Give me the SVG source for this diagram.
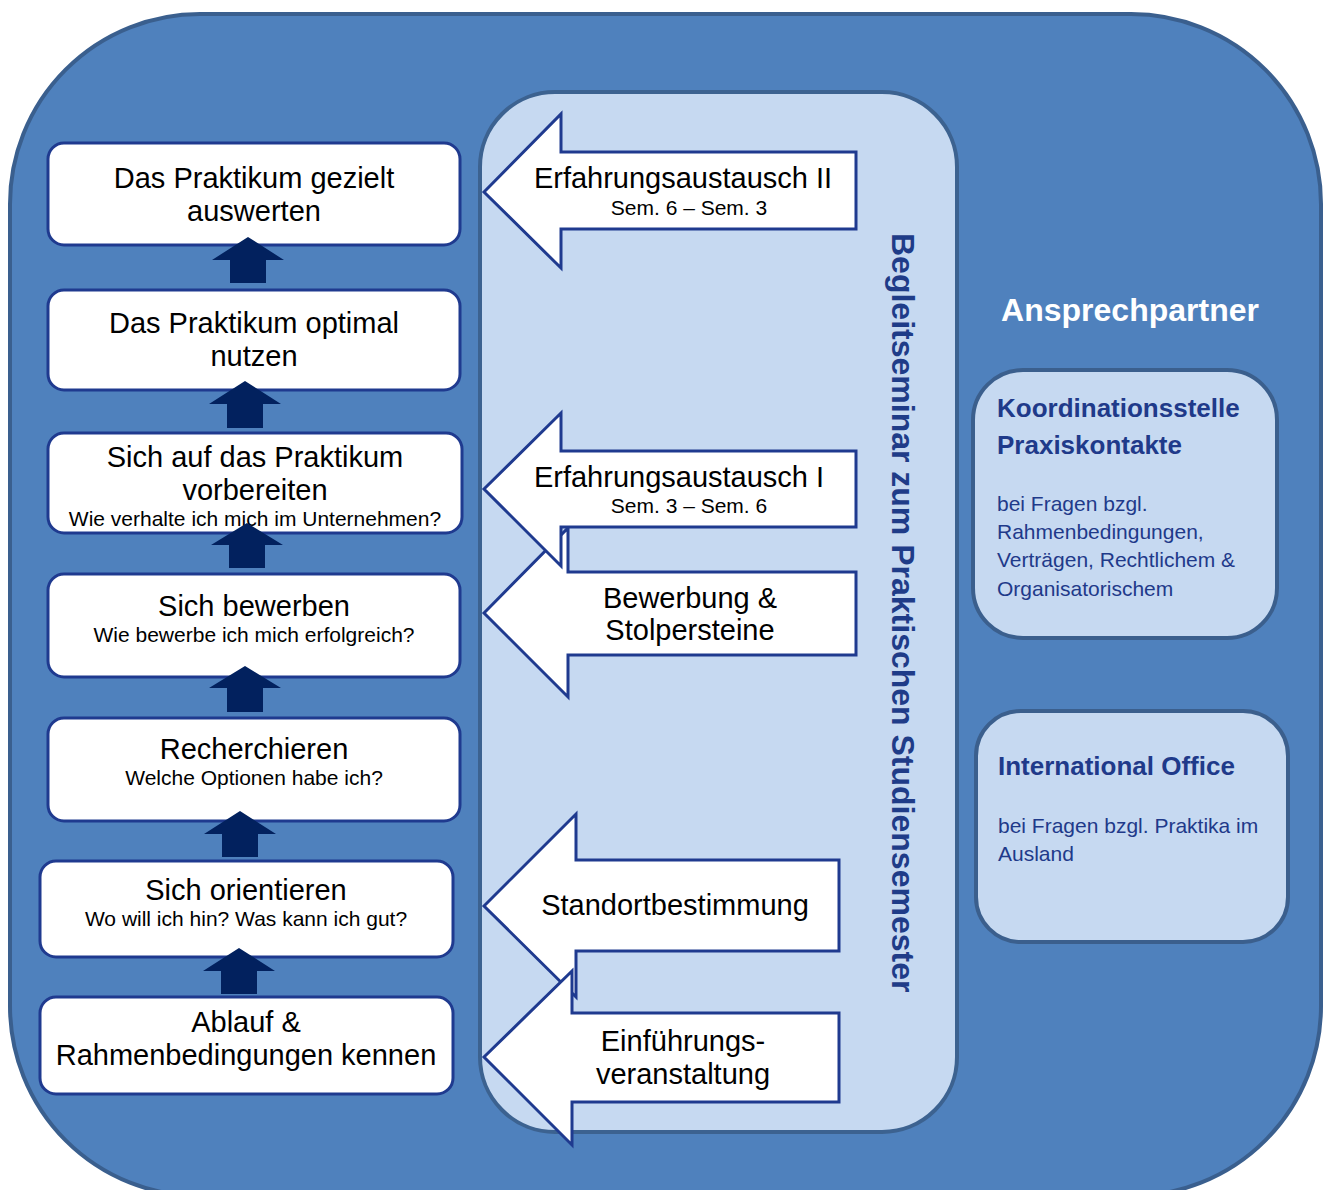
<svg xmlns="http://www.w3.org/2000/svg" width="1330" height="1190" viewBox="0 0 1330 1190">
<style>
.box{fill:#ffffff;stroke:#1F3A8F;stroke-width:3}
.blk{fill:#ffffff;stroke:#1F3A8F;stroke-width:3;stroke-linejoin:miter}
.up{fill:#02215E}
.t{font-family:"Liberation Sans",Arial,sans-serif;fill:#000;text-anchor:middle}
.big{font-size:29px}
.sub{font-size:21px}
.rp{fill:#C6D9F1;stroke:#3B5F8D;stroke-width:4}
.rt{font-family:"Liberation Sans",Arial,sans-serif;fill:#1F3A8A}
.rh{font-size:26px;font-weight:bold}
.rb{font-size:21px}
</style>
<g id="background">
<rect x="10" y="14" width="1311" height="1182" rx="190" ry="190" fill="#4F81BD" stroke="#3A5F8E" stroke-width="4"/>
<rect x="480" y="92" width="477" height="1040" rx="75" ry="75" fill="#C6D9F1" stroke="#3C6290" stroke-width="4"/>
</g>
<g id="seminar-label">
<text transform="translate(892,233) rotate(90)" font-family="Liberation Sans,Arial,sans-serif" font-size="32" font-weight="bold" fill="#1F3C88">Begleitseminar zum Praktischen Studiensemester</text>
</g>
<g id="step-auswerten">
<rect class="box" x="48" y="143" width="412" height="102" rx="16"/>
<text class="t big" x="254" y="188">Das Praktikum gezielt</text>
<text class="t big" x="254" y="221">auswerten</text>
</g>
<g id="step-nutzen">
<rect class="box" x="48" y="290" width="412" height="100" rx="16"/>
<text class="t big" x="254" y="333">Das Praktikum optimal</text>
<text class="t big" x="254" y="366">nutzen</text>
</g>
<g id="step-vorbereiten">
<rect class="box" x="48" y="433" width="414" height="100" rx="16"/>
<text class="t big" x="255" y="467">Sich auf das Praktikum</text>
<text class="t big" x="255" y="500">vorbereiten</text>
<text class="t sub" x="255" y="526">Wie verhalte ich mich im Unternehmen?</text>
</g>
<g id="step-bewerben">
<rect class="box" x="48" y="574" width="412" height="103" rx="16"/>
<text class="t big" x="254" y="616">Sich bewerben</text>
<text class="t sub" x="254" y="642">Wie bewerbe ich mich erfolgreich?</text>
</g>
<g id="step-recherchieren">
<rect class="box" x="48" y="718" width="412" height="103" rx="16"/>
<text class="t big" x="254" y="759">Recherchieren</text>
<text class="t sub" x="254" y="785">Welche Optionen habe ich?</text>
</g>
<g id="step-orientieren">
<rect class="box" x="40" y="861" width="413" height="96" rx="16"/>
<text class="t big" x="246" y="900">Sich orientieren</text>
<text class="t sub" x="246" y="926">Wo will ich hin? Was kann ich gut?</text>
</g>
<g id="step-ablauf">
<rect class="box" x="40" y="997" width="413" height="97" rx="16"/>
<text class="t big" x="246" y="1032">Ablauf &amp;</text>
<text class="t big" x="246" y="1065">Rahmenbedingungen kennen</text>
</g>
<g id="connectors">
<path class="up" d="M248,237 L284,260 L266,260 L266,283 L230,283 L230,260 L212,260 Z"/>
<path class="up" d="M245,381 L281,404 L263,404 L263,428 L227,428 L227,404 L209,404 Z"/>
<path class="up" d="M247,523 L283,545 L265,545 L265,568 L229,568 L229,545 L211,545 Z"/>
<path class="up" d="M245,666 L281,688 L263,688 L263,712 L227,712 L227,688 L209,688 Z"/>
<path class="up" d="M240,811 L276,834 L258,834 L258,857 L222,857 L222,834 L204,834 Z"/>
<path class="up" d="M239,948 L275,971 L257,971 L257,994 L221,994 L221,971 L203,971 Z"/>
</g>
<g id="seminar-bewerbung">
<path class="blk" d="M484,613 L568,528 L568,572 L856,572 L856,655 L568,655 L568,697 Z"/>
<text class="t big" x="690" y="608">Bewerbung &amp;</text>
<text class="t big" x="690" y="640">Stolpersteine</text>
</g>
<g id="seminar-erfahrung1">
<path class="blk" d="M484,489 L561,413 L561,451 L856,451 L856,527 L561,527 L561,566 Z"/>
<text class="t big" x="679" y="487">Erfahrungsaustausch I</text>
<text class="t sub" x="689" y="513">Sem. 3 – Sem. 6</text>
</g>
<g id="seminar-erfahrung2">
<path class="blk" d="M484,192 L561,114 L561,152 L856,152 L856,229 L561,229 L561,268 Z"/>
<text class="t big" x="683" y="188">Erfahrungsaustausch II</text>
<text class="t sub" x="689" y="215">Sem. 6 – Sem. 3</text>
</g>
<g id="seminar-standort">
<path class="blk" d="M484,906 L576,814 L576,860 L839,860 L839,951 L576,951 L576,997 Z"/>
<text class="t big" x="675" y="915">Standortbestimmung</text>
</g>
<g id="seminar-einfuehrung">
<path class="blk" d="M484,1057 L572,971 L572,1013 L839,1013 L839,1102 L572,1102 L572,1145 Z"/>
<text class="t big" x="683" y="1051">Einführungs-</text>
<text class="t big" x="683" y="1084">veranstaltung</text>
</g>
<g id="ansprechpartner">
<text x="1130" y="321" font-family="Liberation Sans,Arial,sans-serif" font-size="32" font-weight="bold" fill="#ffffff" text-anchor="middle">Ansprechpartner</text>
</g>
<g id="koordinationsstelle">
<rect class="rp" x="973" y="370" width="304" height="268" rx="50"/>
<text class="rt rh" x="997" y="417">Koordinationsstelle</text>
<text class="rt rh" x="997" y="454">Praxiskontakte</text>
<text class="rt rb" x="997" y="511">bei Fragen bzgl.</text>
<text class="rt rb" x="997" y="539">Rahmenbedingungen,</text>
<text class="rt rb" x="997" y="567">Verträgen, Rechtlichem &amp;</text>
<text class="rt rb" x="997" y="596">Organisatorischem</text>
</g>
<g id="international-office">
<rect class="rp" x="976" y="711" width="312" height="231" rx="45"/>
<text class="rt rh" x="998" y="775">International Office</text>
<text class="rt rb" x="998" y="833">bei Fragen bzgl. Praktika im</text>
<text class="rt rb" x="998" y="861">Ausland</text>
</g>
</svg>
